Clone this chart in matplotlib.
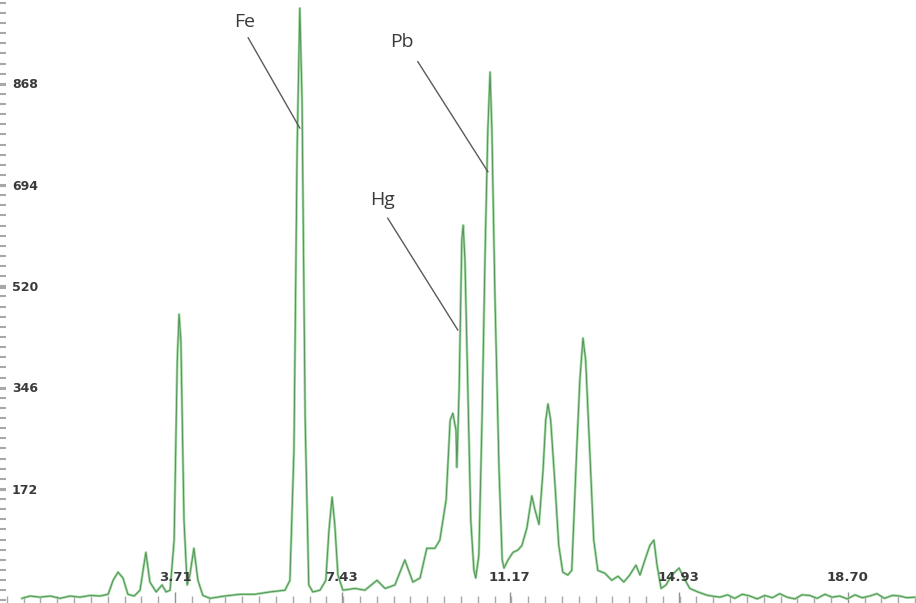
import numpy as np
import matplotlib.pyplot as plt

# spectrum: energy (keV) and counts
energy = [0.30, 0.48, 0.70, 0.93, 1.15, 1.37, 1.59, 1.82, 2.04, 2.22, 2.33, 2.44, 2.55, 2.66,
          2.80, 2.93, 3.06, 3.15, 3.29, 3.42, 3.51, 3.60, 3.69, 3.76, 3.80, 3.84, 3.91, 3.98,
          4.04, 4.13, 4.22, 4.33, 4.49, 4.82, 5.16, 5.49, 5.82, 6.16, 6.27, 6.36, 6.43, 6.49,
          6.54, 6.61, 6.69, 6.78, 6.94, 7.07, 7.14, 7.21, 7.27, 7.34, 7.45, 7.72, 7.94, 8.21,
          8.39, 8.61, 8.83, 9.01, 9.17, 9.32, 9.50, 9.61, 9.75, 9.84, 9.90, 9.97, 9.99, 10.04,
          10.10, 10.13, 10.17, 10.24, 10.30, 10.37, 10.41, 10.48, 10.55, 10.62, 10.68, 10.73,
          10.77, 10.84, 10.93, 11.00, 11.04, 11.13, 11.24, 11.35, 11.44, 11.55, 11.66, 11.73,
          11.82, 11.91, 11.97, 12.02, 12.08, 12.17, 12.26, 12.35, 12.46, 12.55, 12.66, 12.73,
          12.80, 12.86, 12.95, 13.04, 13.13, 13.29, 13.44, 13.58, 13.71, 13.84, 13.98, 14.07,
          14.18, 14.29, 14.38, 14.45, 14.54, 14.65, 14.78, 14.94, 15.05, 15.18, 15.36, 15.58,
          15.85, 16.02, 16.18, 16.35, 16.52, 16.68, 16.85, 17.02, 17.18, 17.35, 17.52, 17.68,
          17.85, 18.02, 18.19, 18.35, 18.52, 18.69, 18.86, 19.02, 19.19, 19.35, 19.52, 19.69,
          19.86, 20.02, 20.19]
counts = [-14, -10, -12, -10, -14, -10, -12, -9, -10, -7, 17, 31, 21, -7,
          -10, 0, 65, 14, -3, 9, -3, 0, 86, 395, 474, 430, 120, 9,
          26, 72, 17, -9, -14, -10, -7, -7, -3, 0, 17, 241, 756, 1000,
          842, 292, 9, -3, 0, 17, 103, 160, 112, 26, 0, 3, 0, 17,
          3, 9, 52, 14, 21, 72, 72, 86, 155, 292, 304, 275, 211, 344,
          602, 627, 567, 327, 120, 34, 21, 60, 292, 584, 791, 890,
          791, 498, 206, 52, 38, 52, 65, 69, 77, 107, 162, 138,
          113, 206, 292, 320, 292, 189, 77, 31, 26, 34, 241, 361,
          433, 395, 241, 86, 34, 29, 17, 24, 14, 26, 43, 26,
          52, 77, 86, 43, 3, 9, 26, 38, 21, 3, -3, -9,
          -12, -8, -14, -7, -10, -15, -9, -13, -6, -12, -15, -8,
          -9, -14, -7, -12, -10, -15, -8, -13, -10, -6, -14, -9,
          -10, -13, -12]

y_major = [172, 346, 520, 694, 868]
x_major = [3.71, 7.43, 11.17, 14.93, 18.70]
x_labels = ['3.71', '7.43', '11.17', '14.93', '18.70']

# element labels: name, text position, leader line start, leader line end
elements = ['Fe', 'Pb', 'Hg']
elem_text_xy = [(5.27, 976), (8.76, 942), (8.34, 670)]
elem_line_from = [(5.34, 949), (9.12, 908), (8.45, 639)]
elem_line_to = [(6.49, 794), (10.68, 719), (10.01, 447)]

fig = plt.figure(figsize=(9.16, 6.03), dpi=100)
ax = fig.add_axes([0, 0, 1, 1])

# light green trace with a thin darker core
ax.plot(energy, counts, color='#9ad69a', lw=1.8, solid_joinstyle='round')
ax.plot(energy, counts, color='#4f8a55', lw=0.6, solid_joinstyle='round')

ax.set_xlim(-0.19, 20.22)
ax.set_ylim(-22, 1014)

for s in ax.spines.values():
    s.set_visible(False)

# y ticks along left edge
ax.set_yticks(np.arange(-17.4, 1014, 17.4), minor=True)
ax.set_yticks(y_major)
ax.set_yticklabels([])
ax.tick_params(axis='y', which='both', direction='in', length=4.5, width=1.5, color='#a8a8a8')
for v in y_major:
    ax.text(0.013, v, str(v), transform=ax.get_yaxis_transform(), ha='left', va='center',
            fontsize=9, fontweight='bold', color='#3a3a3a')

# x ticks along bottom edge
step = (x_major[-1] - x_major[0]) / 40
ax.set_xticks(x_major[0] + step * np.arange(-10, 45), minor=True)
ax.set_xticks(x_major)
ax.set_xticklabels([])
ax.tick_params(axis='x', which='minor', direction='in', length=5, width=1, color='#a8a8a8')
ax.tick_params(axis='x', which='major', direction='in', length=8, width=1, color='#909090')
for v, lab in zip(x_major, x_labels):
    ax.text(v, 0.043, lab, transform=ax.get_xaxis_transform(), ha='center', va='center',
            fontsize=9.5, fontweight='bold', color='#3a3a3a')

for name, txy, p0, p1 in zip(elements, elem_text_xy, elem_line_from, elem_line_to):
    ax.text(txy[0], txy[1], name, ha='center', va='center', fontsize=14,
            family='Open Sans', color='#3a3a3a')
    ax.plot([p0[0], p1[0]], [p0[1], p1[1]], color='#5a5a5a', lw=1)

fig.savefig('out.png', dpi=100)
